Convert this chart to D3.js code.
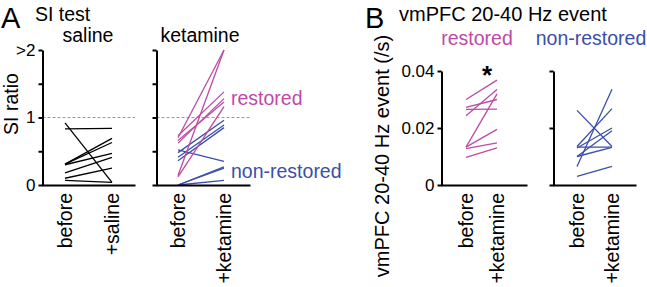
<!DOCTYPE html>
<html>
<head>
<meta charset="utf-8">
<script src="https://cdnjs.cloudflare.com/ajax/libs/d3/7.8.5/d3.min.js"></script>
<style>
    body { margin: 0; background: #fff; }
    svg text { font-family: "Liberation Sans", Arial, Helvetica, sans-serif; fill: #000; }
</style>
</head>
<body>
<div id="chart"></div>
<script>
// Categories on the x axis
const groups = ["before", "after"];

// Panel A, SI ratio (values above 2 are drawn at ">2")
const salineBefore = [0.92, 0.83, 0.31, 0.31, 0.30, 0.18, 0.10, 0.07];
const salineAfter = [0.04, 0.84, 0.69, 0.63, 0.47, 0.41, 0.25, 0.04];
const ketRestoredBefore = [0.70, 0.14, 0.73, 0.62, 0.66, 0.12];
const ketRestoredAfter = [2.00, 2.00, 1.38, 1.28, 1.23, 1.16];
const ketNonBefore = [0.52, 0.48, 0.41, 0.36, 0.00, 0.00, 0.00];
const ketNonAfter = [0.35, 0.96, 0.89, 0.85, 0.25, 0.27, 0.07];
const siTicks = [0, 0.5, 1, 1.5, 2];
const siTickLabels = ["0", "", "1", "", ">2"];

// Panel B, vmPFC 20-40 Hz events (/s)
const restBefore = [0.0300, 0.0272, 0.0265, 0.0243, 0.0133, 0.0133, 0.0128, 0.0097];
const restAfter = [0.0368, 0.0300, 0.0266, 0.0335, 0.0320, 0.0195, 0.0148, 0.0130];
const nonBefore = [0.0262, 0.0135, 0.0133, 0.0130, 0.0100, 0.0065, 0.0030, 0.0100];
const nonAfter = [0.0135, 0.0268, 0.0133, 0.0200, 0.0132, 0.0336, 0.0065, 0.0190];
const evTicks = [0, 0.02, 0.04];
const evTickLabels = ["0", "0.02", "0.04"];

const magenta = "#bd4aa6";
const blue = "#3a4fa8";

const svg = d3.select("#chart")
    .append("svg")
    .attr("width", 647)
    .attr("height", 287);

// Y scales
const yA = d3.scaleLinear().domain([0, 2]).range([185, 50]);
const yB = d3.scaleLinear().domain([0, 0.04]).range([185, 71]);

// Draw one small before/after panel
function drawPanel(p) {
    const x = d3.scalePoint().domain(groups).range([p.bx, p.ax]);

    // dashed reference line
    if (p.dashAt !== undefined) {
        svg.append("line")
            .attr("x1", p.x0).attr("x2", p.x1)
            .attr("y1", p.y(p.dashAt)).attr("y2", p.y(p.dashAt))
            .attr("stroke", "#999").attr("stroke-width", 1.2)
            .attr("stroke-dasharray", "3,2");
    }

    // lines
    p.sets.forEach(function (s) {
        const pairs = s.before.map((b, i) => [[groups[0], b], [groups[1], s.after[i]]]);
        svg.append("g")
            .selectAll("path")
            .data(pairs)
            .join("path")
            .attr("fill", "none")
            .attr("stroke", s.color)
            .attr("stroke-width", 1.3)
            .attr("d", d3.line().x(d => x(d[0])).y(d => p.y(d[1])));
    });

    // Y axis
    const yAxis = svg.append("g")
        .attr("transform", `translate(${p.x0},0)`)
        .call(d3.axisLeft(p.y).tickValues(p.ticks).tickSize(4).tickSizeOuter(0)
            .tickFormat((d, i) => p.labels ? p.labels[i] : ""));
    yAxis.select(".domain").attr("stroke-width", 2);
    yAxis.selectAll(".tick line").attr("stroke-width", 2);
    yAxis.selectAll(".tick text").style("font-size", "17px");

    // X axis (no ticks)
    const xAxis = svg.append("g")
        .attr("transform", `translate(0,${p.y(0)})`)
        .call(d3.axisBottom(d3.scaleLinear().range([p.x0 - 1, p.x1])).ticks(0).tickSizeOuter(0));
    xAxis.select(".domain").attr("stroke-width", 2);

    // rotated x labels
    const names = ["before", p.afterLabel];
    groups.forEach(function (g, i) {
        svg.append("text")
            .attr("transform", `translate(${x(g)},193) rotate(-90)`)
            .attr("text-anchor", "end")
            .attr("dy", "0.35em")
            .style("font-size", "19.5px")
            .text(names[i]);
    });
}

drawPanel({ x0: 42.5, x1: 135, bx: 65, ax: 112, y: yA, ticks: siTicks, labels: siTickLabels,
    dashAt: 1, afterLabel: "+saline",
    sets: [{ before: salineBefore, after: salineAfter, color: "#000" }] });

drawPanel({ x0: 156.5, x1: 250, bx: 178, ax: 224, y: yA, ticks: siTicks, labels: null,
    dashAt: 1, afterLabel: "+ketamine",
    sets: [{ before: ketNonBefore, after: ketNonAfter, color: blue },
        { before: ketRestoredBefore, after: ketRestoredAfter, color: magenta }] });

drawPanel({ x0: 441.5, x1: 527, bx: 466, ax: 497, y: yB, ticks: evTicks, labels: evTickLabels,
    afterLabel: "+ketamine",
    sets: [{ before: restBefore, after: restAfter, color: magenta }] });

drawPanel({ x0: 553.5, x1: 636, bx: 577, ax: 612, y: yB, ticks: evTicks, labels: null,
    afterLabel: "+ketamine",
    sets: [{ before: nonBefore, after: nonAfter, color: blue }] });

// Panel letters and titles
svg.append("text").attr("x", 1).attr("y", 28).style("font-size", "29px").text("A");
svg.append("text").attr("x", 35).attr("y", 21).style("font-size", "19.5px").text("SI test");
svg.append("text").attr("x", 88).attr("y", 42).attr("text-anchor", "middle").style("font-size", "19.5px").text("saline");
svg.append("text").attr("x", 200).attr("y", 42).attr("text-anchor", "middle").style("font-size", "19.5px").text("ketamine");
svg.append("text").attr("transform", "translate(18,104) rotate(-90)").attr("text-anchor", "middle").style("font-size", "19.5px").text("SI ratio");
svg.append("text").attr("x", 231).attr("y", 105).style("font-size", "19.5px").style("fill", magenta).text("restored");
svg.append("text").attr("x", 231).attr("y", 178).style("font-size", "19.5px").style("fill", blue).text("non-restored");

svg.append("text").attr("x", 365).attr("y", 28).style("font-size", "29px").text("B");
svg.append("text").attr("x", 399).attr("y", 21).style("font-size", "20px").text("vmPFC 20-40 Hz event");
svg.append("text").attr("x", 477).attr("y", 45).attr("text-anchor", "middle").style("font-size", "19.5px").style("fill", magenta).text("restored");
svg.append("text").attr("x", 591).attr("y", 45).attr("text-anchor", "middle").style("font-size", "19.5px").style("fill", blue).text("non-restored");
svg.append("text").attr("x", 487).attr("y", 84).attr("text-anchor", "middle").style("font-size", "26px").style("font-weight", "bold").text("*");
svg.append("text").attr("transform", "translate(389,156) rotate(-90)").attr("text-anchor", "middle").style("font-size", "20px").text("vmPFC 20-40 Hz event (/s)");
</script>
</body>
</html>
